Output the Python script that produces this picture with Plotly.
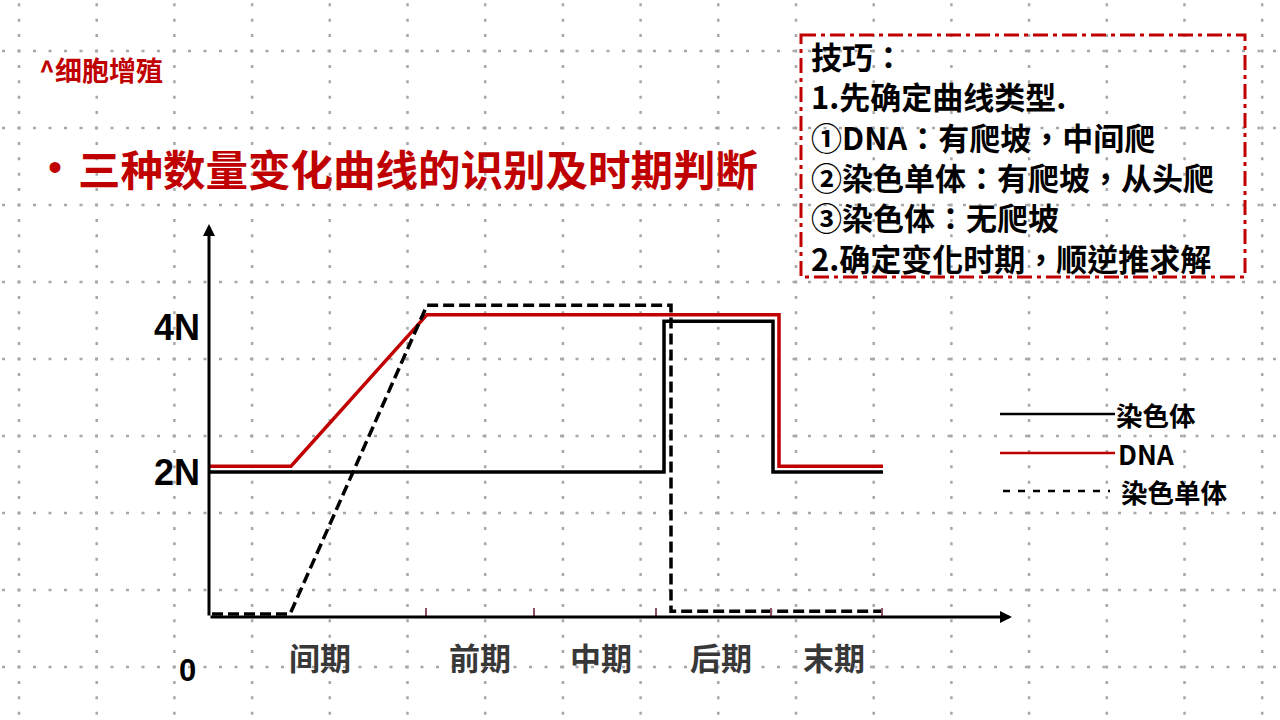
import plotly.graph_objects as go

# ---------------- data ----------------
phases = ["间期", "前期", "中期", "后期", "末期"]
phase_bounds = [21.7, 32.5, 44.7, 56.2, 67.3]      # tick marks between phases
label_pos = [11.1, 27.1, 39.2, 51.2, 62.5]         # centre of each phase label

chrom_x = [0, 45.5, 45.5, 56.4, 56.4, 67.4]
chrom_y = [2.0, 2.0, 4.08, 4.08, 2.0, 2.0]

dna_x = [0, 8.2, 21.8, 57.0, 57.0, 67.4]
dna_y = [2.08, 2.08, 4.17, 4.17, 2.08, 2.08]

chromatid_x = [0.3, 8.1, 21.8, 46.2, 46.2, 67.3]
chromatid_y = [0.04, 0.04, 4.30, 4.30, 0.08, 0.08]

y_tickvals = [2, 4]
y_ticktext = ["2N", "4N"]

legend_names = ["染色体", "DNA", "染色单体"]

tips = [
    "技巧：",
    "1.先确定曲线类型.",
    "①DNA：有爬坡，中间爬",
    "②染色单体：有爬坡，从头爬",
    "③染色体：无爬坡",
    "2.确定变化时期，顺逆推求解",
]

subtitle = "^细胞增殖"
title = "三种数量变化曲线的识别及时期判断"

# ---------------- layout geometry ----------------
W, H = 1280, 720
L, R, T, B = 209, 1010, 224, 617
XMAX = (R - L) / 10.0
YMAX = (B - T) / 72.5

RED = "#C00000"
CJK = "Noto Sans CJK SC"
CJK_BOX = "Noto Sans CJK TC"   # centred full-width punctuation


def px(x):
    return (x - L) / (R - L)


def py(y):
    return (B - y) / (B - T)


fig = go.Figure()

fig.add_trace(go.Scatter(x=chrom_x, y=chrom_y, mode="lines",
                         line=dict(color="black", width=3.5), name=legend_names[0],
                         showlegend=False, hoverinfo="skip"))
fig.add_trace(go.Scatter(x=dna_x, y=dna_y, mode="lines",
                         line=dict(color=RED, width=3.5), name=legend_names[1],
                         showlegend=False, hoverinfo="skip"))
fig.add_trace(go.Scatter(x=chromatid_x, y=chromatid_y, mode="lines",
                         line=dict(color="black", width=3.5, dash="11px,5px"),
                         name=legend_names[2], showlegend=False, hoverinfo="skip"))

shapes = []
# dotted grid background
GRID = "#a8a8a8"
for k in range(9):
    yy = 51 + 77.0 * k
    shapes.append(dict(type="line", xref="paper", yref="paper", layer="below",
                       x0=px(2), x1=px(1282), y0=py(yy), y1=py(yy),
                       line=dict(color=GRID, width=2.5, dash="3px,12.5px")))
for k in range(17):
    xx = 19 + 77.7 * k
    shapes.append(dict(type="line", xref="paper", yref="paper", layer="below",
                       x0=px(xx), x1=px(xx), y0=py(3.3), y1=py(722),
                       line=dict(color=GRID, width=2.5, dash="3px,12.4px")))

# tips box
shapes.append(dict(type="rect", xref="paper", yref="paper",
                   x0=px(801), x1=px(1245), y0=py(35), y1=py(277),
                   line=dict(color=RED, width=3, dash="15px,5px,4px,5px")))

# manual legend keys
shapes.append(dict(type="line", xref="paper", yref="paper", x0=px(1000), x1=px(1115),
                   y0=py(414), y1=py(414), line=dict(color="black", width=2.5)))
shapes.append(dict(type="line", xref="paper", yref="paper", x0=px(1000), x1=px(1115),
                   y0=py(453), y1=py(453), line=dict(color=RED, width=2.5)))
shapes.append(dict(type="line", xref="paper", yref="paper", x0=px(1003), x1=px(1110),
                   y0=py(491), y1=py(491), line=dict(color="black", width=2.5, dash="7px,8px")))

ann = []
# axes with arrows
ann.append(dict(x=0, y=YMAX, ax=0, ay=0, xref="x", yref="y", axref="x", ayref="y",
                text="", showarrow=True, arrowhead=2, arrowsize=0.8, arrowwidth=3,
                arrowcolor="black"))
ann.append(dict(x=XMAX + 0.2, y=0, ax=0, ay=0, xref="x", yref="y", axref="x", ayref="y",
                text="", showarrow=True, arrowhead=2, arrowsize=0.8, arrowwidth=3,
                arrowcolor="black"))

# phase labels
for name, pos in zip(phases, label_pos):
    ann.append(dict(x=pos, y=py(656), xref="x", yref="paper", text=name,
                    showarrow=False, xanchor="center", yanchor="middle",
                    font=dict(family=CJK, size=31, color="#383838", weight="bold")))

# origin label
ann.append(dict(x=px(187), y=py(670), xref="paper", yref="paper", text="0",
                showarrow=False, xanchor="center", yanchor="middle",
                font=dict(family="Liberation Sans", size=31, color="black", weight="bold")))

# legend texts
for name, (xl, yl) in zip(legend_names, [(1114, 414), (1116, 453), (1119, 491)]):
    ann.append(dict(x=px(xl), y=py(yl), xref="paper", yref="paper", text=name,
                    showarrow=False, xanchor="left", yanchor="middle",
                    font=dict(family=CJK, size=26.5, color="black", weight="bold")))

# titles
ann.append(dict(x=px(37), y=py(70), xref="paper", yref="paper", text=subtitle,
                showarrow=False, xanchor="left", yanchor="middle",
                font=dict(family=CJK, size=27, color=RED, weight="bold")))
ann.append(dict(x=px(55), y=py(167), xref="paper", yref="paper", text="•",
                showarrow=False, xanchor="center", yanchor="middle",
                font=dict(family="Liberation Sans", size=40, color=RED)))
ann.append(dict(x=px(76), y=py(167), xref="paper", yref="paper", text=title,
                showarrow=False, xanchor="left", yanchor="middle",
                font=dict(family=CJK, size=42.5, color=RED, weight="bold")))

# tips text (one block)
ann.append(dict(x=px(809), y=py(156), xref="paper", yref="paper",
                text="<br>".join(tips),
                showarrow=False, xanchor="left", yanchor="middle", align="left",
                font=dict(family=CJK_BOX, size=31, color="black", weight="bold")))

fig.update_layout(
    width=W, height=H,
    margin=dict(l=L, r=W - R, t=T, b=H - B, pad=0),
    paper_bgcolor="white", plot_bgcolor="rgba(0,0,0,0)",
    showlegend=False,
    shapes=shapes, annotations=ann,
    xaxis=dict(range=[0, XMAX], showgrid=False, zeroline=False, showline=False,
               tickvals=phase_bounds, ticks="inside", ticklen=9, tickwidth=2,
               tickcolor="#8c4f63", showticklabels=False, fixedrange=True),
    yaxis=dict(range=[0, YMAX], showgrid=False, zeroline=False, showline=False,
               tickvals=y_tickvals, ticktext=y_ticktext, ticks="",
               ticklabelstandoff=8,
               tickfont=dict(family="Liberation Sans", size=36, color="black", weight="bold"),
               fixedrange=True),
)

fig.write_html("out.html", config={"displayModeBar": False},
               post_script="document.body.style.margin='0';")
